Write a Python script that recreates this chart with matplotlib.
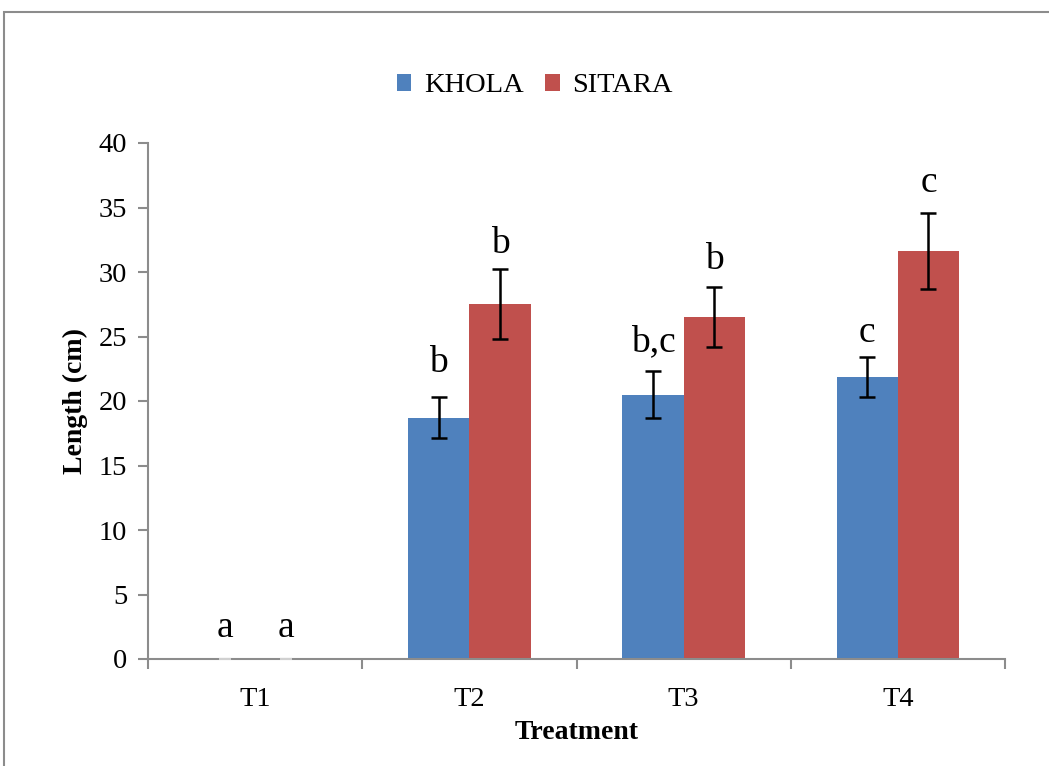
import matplotlib
matplotlib.use("Agg")
import matplotlib.pyplot as plt
from matplotlib.patches import Rectangle
import numpy as np

plt.rcParams['font.family'] = ['Liberation Serif', 'DejaVu Serif']

# Data
treatments = ["T1", "T2", "T3", "T4"]
khola = [0.0, 18.7, 20.5, 21.85]
sitara = [0.0, 27.5, 26.5, 31.65]
khola_err = [0.0, 1.6, 1.8, 1.55]
sitara_err = [0.0, 2.7, 2.3, 2.95]
khola_letters = ["a", "b", "b,c", "c"]
sitara_letters = ["a", "b", "b", "c"]

# Vertical gap (pixels) between error-bar top and letter baseline
khola_gap = [22, 25, 20, 15]
sitara_gap = [22, 16, 18, 21]

blue = "#4F81BD"
red = "#C0504D"
grey = "#8c8c8c"

fig = plt.figure(figsize=(10.49, 7.66), dpi=100)
ax = fig.add_axes([148/1049, 1 - 659/766, (1005 - 148)/1049, (659 - 143)/766])

# Outer frame of the chart area
fig.patches.append(Rectangle((4/1049, -0.05), 1.2, 1 - 12.5/766 + 0.05,
                             transform=fig.transFigure, fill=False,
                             edgecolor=grey, linewidth=1.5))

x = np.arange(len(treatments))
w = 1 / 3.5
ax.bar(x - w/2, khola, w, color=blue, label="KHOLA", zorder=2)
ax.bar(x + w/2, sitara, w, color=red, label="SITARA", zorder=2)


def draw_err(xs, ys, es):
    xs, ys, es = np.asarray(xs), np.asarray(ys), np.asarray(es)
    nz = es > 0
    ax.errorbar(xs[nz], ys[nz], yerr=es[nz], fmt="none", ecolor="black",
                elinewidth=1.8, capsize=5.5, capthick=1.8, zorder=3)
    if (~nz).any():
        ax.errorbar(xs[~nz], ys[~nz], yerr=es[~nz], fmt="none", ecolor="#d0d0d0",
                    elinewidth=1.5, capsize=4.5, capthick=1.5, zorder=3)


draw_err(x - w/2, khola, khola_err)
draw_err(x + w/2, sitara, sitara_err)

for i in range(len(treatments)):
    ax.annotate(khola_letters[i], (x[i] - w/2, khola[i] + khola_err[i]),
                xytext=(0, khola_gap[i] * 0.72), textcoords="offset points",
                ha="center", va="baseline", fontsize=27)
    ax.annotate(sitara_letters[i], (x[i] + w/2, sitara[i] + sitara_err[i]),
                xytext=(0, sitara_gap[i] * 0.72), textcoords="offset points",
                ha="center", va="baseline", fontsize=27)

ax.set_xlim(-0.5, len(treatments) - 0.5)
ax.set_ylim(0, 40)
ax.set_yticks(range(0, 41, 5))
ax.set_xticks(x)
ax.set_xticklabels(treatments)
ax.set_xticks(np.arange(-0.5, len(treatments), 1), minor=True)
ax.tick_params(axis="x", which="major", length=0, labelsize=20.5, pad=20)
ax.tick_params(axis="x", which="minor", length=7, width=1.5, color=grey)
ax.tick_params(axis="y", length=7, width=1.5, color=grey, labelsize=20.5, pad=8)

for s in ["top", "right"]:
    ax.spines[s].set_visible(False)
for s in ["left", "bottom"]:
    ax.spines[s].set_color(grey)
    ax.spines[s].set_linewidth(1.5)

ax.set_ylabel("Length (cm)", fontsize=20, fontweight="bold", labelpad=8)
ax.set_xlabel("Treatment", fontsize=20, fontweight="bold", labelpad=6)

ax.legend(loc="center", bbox_to_anchor=(535/1049, 1 - 86/766),
          bbox_transform=fig.transFigure, ncol=2, frameon=False,
          fontsize=20.5, handlelength=0.5, handleheight=0.5,
          handletextpad=0.45, columnspacing=0.75)

fig.savefig("out.png", dpi=100)
